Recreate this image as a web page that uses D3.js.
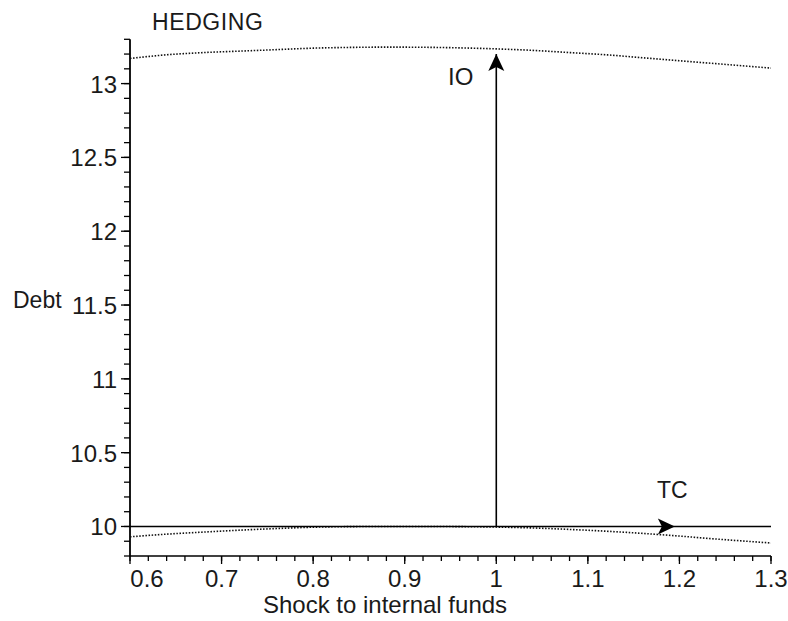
<!DOCTYPE html>
<html><head><meta charset="utf-8">
<script src="https://cdn.jsdelivr.net/npm/d3@7"></script>
<style>body{margin:0;background:#fff}svg{display:block}text{font-family:"Liberation Sans",Arial,sans-serif;fill:#1a1a1a}</style>
</head><body>
<svg id="c" width="788" height="621"></svg>
<script>
// Data
const xGrid = [0.6, 0.64, 0.68, 0.72, 0.76, 0.8, 0.84, 0.88, 0.92, 0.96, 1.0, 1.04, 1.08, 1.12, 1.16, 1.2, 1.24, 1.28, 1.3];
const upperCurve = [13.17, 13.195, 13.21, 13.22, 13.23, 13.24, 13.245, 13.247, 13.246, 13.242, 13.235, 13.225, 13.21, 13.195, 13.175, 13.155, 13.135, 13.115, 13.105];
const lowerCurve = [9.93, 9.948, 9.962, 9.975, 9.986, 9.995, 9.999, 10.0, 10.0, 9.999, 9.996, 9.99, 9.98, 9.968, 9.953, 9.935, 9.915, 9.897, 9.888];
const baseLine = [[0.6, 10], [1.3, 10]];
const ioArrow = [[1.0, 10], [1.0, 13.2]];
const tcArrow = [[1.0, 10], [1.195, 10]];
const xTicks = [0.6, 0.7, 0.8, 0.9, 1, 1.1, 1.2, 1.3];
const yTicks = [10, 10.5, 11, 11.5, 12, 12.5, 13];
const xDomain = [0.6, 1.3];
const yDomain = [9.8, 13.3];
const labels = {title: "HEDGING", xTitle: "Shock to internal funds", yTitle: "Debt", io: "IO", tc: "TC"};

const svg = d3.select("#c");
const x = d3.scaleLinear().domain(xDomain).range([130, 771]);
const y = d3.scaleLinear().domain(yDomain).range([556, 39.3]);

// minor ticks
const xMinor = d3.range(0.6, 1.3001, 0.02);
const yMinor = d3.range(9.8, 13.3001, 0.1);
const gx = svg.append("g");
gx.selectAll("line.mn").data(xMinor).join("line")
  .attr("x1", d => x(d)).attr("x2", d => x(d)).attr("y1", y(9.8)).attr("y2", y(9.8) + 5)
  .attr("stroke", "#000").attr("stroke-width", 1.3);
gx.selectAll("line.mj").data(xTicks).join("line")
  .attr("x1", d => x(d)).attr("x2", d => x(d)).attr("y1", y(9.8)).attr("y2", y(9.8) + 8)
  .attr("stroke", "#000").attr("stroke-width", 1.3);
gx.selectAll("text").data(xTicks).join("text")
  .attr("x", (d, i) => x(d) + (i === 0 ? 17 : 0)).attr("y", 587)
  .attr("text-anchor", "middle").attr("font-size", 24).text(d => d);
const gy = svg.append("g");
gy.selectAll("line.mn").data(yMinor).join("line")
  .attr("x1", 130).attr("x2", 124).attr("y1", d => y(d)).attr("y2", d => y(d))
  .attr("stroke", "#000").attr("stroke-width", 1.3);
gy.selectAll("line.mj").data(yTicks).join("line")
  .attr("x1", 130).attr("x2", 121).attr("y1", d => y(d)).attr("y2", d => y(d))
  .attr("stroke", "#000").attr("stroke-width", 1.3);
gy.selectAll("text").data(yTicks).join("text")
  .attr("x", 117).attr("y", d => y(d) + 9)
  .attr("text-anchor", "end").attr("font-size", 24).text(d => d);
// axis lines
svg.append("line").attr("x1", 130).attr("x2", 771).attr("y1", y(9.8)).attr("y2", y(9.8)).attr("stroke", "#000").attr("stroke-width", 1.5);
svg.append("line").attr("x1", 130).attr("x2", 130).attr("y1", y(9.8)).attr("y2", y(13.3)).attr("stroke", "#000").attr("stroke-width", 1.8);

const line = d3.line().x(d => x(d[0])).y(d => y(d[1])).curve(d3.curveMonotoneX);
svg.append("path").datum(xGrid.map((v, i) => [v, upperCurve[i]])).attr("d", line)
  .attr("fill", "none").attr("stroke", "#111").attr("stroke-width", 1.6).attr("stroke-dasharray", "1.5,1.6");
svg.append("path").datum(xGrid.map((v, i) => [v, lowerCurve[i]])).attr("d", line)
  .attr("fill", "none").attr("stroke", "#111").attr("stroke-width", 1.6).attr("stroke-dasharray", "1.5,1.6");

const straight = d3.line().x(d => x(d[0])).y(d => y(d[1]));
svg.append("path").datum(baseLine).attr("d", straight).attr("stroke", "#000").attr("stroke-width", 1.6);
svg.append("path").datum(ioArrow).attr("d", straight).attr("stroke", "#000").attr("stroke-width", 1.6);

// arrowheads
function head(p, dir) {
  const tx = x(p[0]), ty = y(p[1]);
  const L = 17, W = 8;
  let pts;
  if (dir === "up") pts = [[tx, ty], [tx - W, ty + L], [tx, ty + L - 4], [tx + W, ty + L]];
  else pts = [[tx, ty], [tx - L, ty - W], [tx - L + 4, ty], [tx - L, ty + W]];
  svg.append("polygon").attr("points", pts.map(q => q.join(",")).join(" ")).attr("fill", "#000");
}
head(ioArrow[1], "up");
head(tcArrow[1], "right");

svg.append("text").attr("x", 152).attr("y", 30).attr("font-size", 23).attr("letter-spacing", 0.6).text(labels.title);
svg.append("text").attr("x", 13).attr("y", 308).attr("font-size", 23).text(labels.yTitle);
svg.append("text").attr("x", 385).attr("y", 613).attr("text-anchor", "middle").attr("font-size", 24).text(labels.xTitle);
svg.append("text").attr("x", 448).attr("y", 85).attr("font-size", 24).text(labels.io);
svg.append("text").attr("x", 657).attr("y", 498).attr("font-size", 23).text(labels.tc);
</script>
</body></html>
